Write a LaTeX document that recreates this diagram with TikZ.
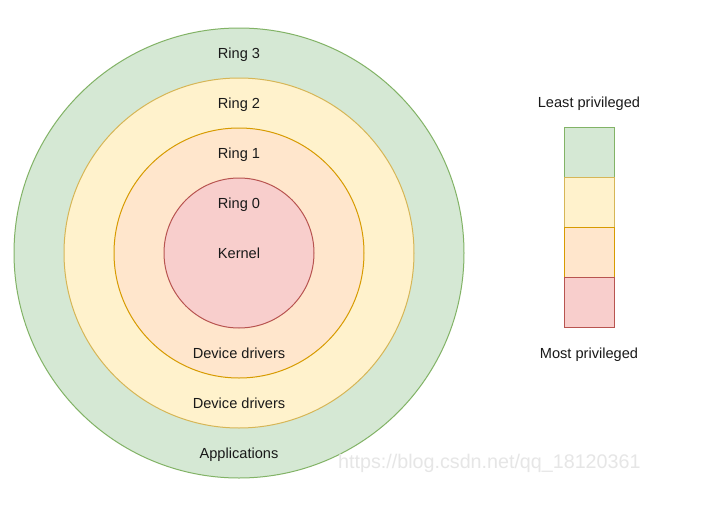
\documentclass[tikz,border=0pt]{standalone}
\usepackage{fontspec}
\setmainfont{Liberation Sans}
\definecolor{gfill}{HTML}{D5E8D4}\definecolor{gdraw}{HTML}{82B366}
\definecolor{yfill}{HTML}{FFF2CC}\definecolor{ydraw}{HTML}{D6B656}
\definecolor{ofill}{HTML}{FFE6CC}\definecolor{odraw}{HTML}{D79B00}
\definecolor{rfill}{HTML}{F8CECC}\definecolor{rdraw}{HTML}{B85450}
\definecolor{wmark}{HTML}{E6E6E6}
\begin{document}
\begin{tikzpicture}[x=1pt,y=-1pt,
  ringc/.style={circle,inner sep=0pt,line width=1pt},
  lbl/.style={inner sep=0pt,text height=10.4pt,text depth=0pt,font=\fontsize{14.6}{17}\selectfont,text=black!90},
  cell/.style={rectangle,minimum width=50pt,minimum height=50pt,inner sep=0pt,line width=1pt}]
\useasboundingbox (0,0) rectangle (705,504);
\fill[white] (0,0) rectangle (705,504);
\node[ringc,minimum size=450pt,fill=gfill,draw=gdraw] (r3) at (239,253) {};
\node[ringc,minimum size=350pt,fill=yfill,draw=ydraw] (r2) at (239,253) {};
\node[ringc,minimum size=250pt,fill=ofill,draw=odraw] (r1) at (239,253) {};
\node[ringc,minimum size=150pt,fill=rfill,draw=rdraw] (r0) at (239,253) {};
\node[lbl] (t3) at (239,53) {Ring 3};
\node[lbl] (t2) at (239,103) {Ring 2};
\node[lbl] (t1) at (239,153) {Ring 1};
\node[lbl] (t0) at (239,203) {Ring 0};
\node[lbl] (k) at (239,253) {Kernel};
\node[lbl] (d1) at (239,353) {Device drivers};
\node[lbl] (d2) at (239,403) {Device drivers};
\node[lbl] (ap) at (239,453) {Applications};
\node[cell,fill=gfill,draw=gdraw] (c3) at (589,152) {};
\node[cell,fill=yfill,draw=ydraw] (c2) at (589,202) {};
\node[cell,fill=ofill,draw=odraw] (c1) at (589,252) {};
\node[cell,fill=rfill,draw=rdraw] (c0) at (589,302) {};
\node[lbl] (lp) at (589,102) {Least privileged};
\node[lbl] (mp) at (589,353) {Most privileged};
\node[inner sep=0pt,anchor=west,font=\fontsize{19.7}{22}\selectfont,text=wmark] (wm) at (338,463) {https://blog.csdn.net/qq\_18120361};
\end{tikzpicture}
\end{document}
